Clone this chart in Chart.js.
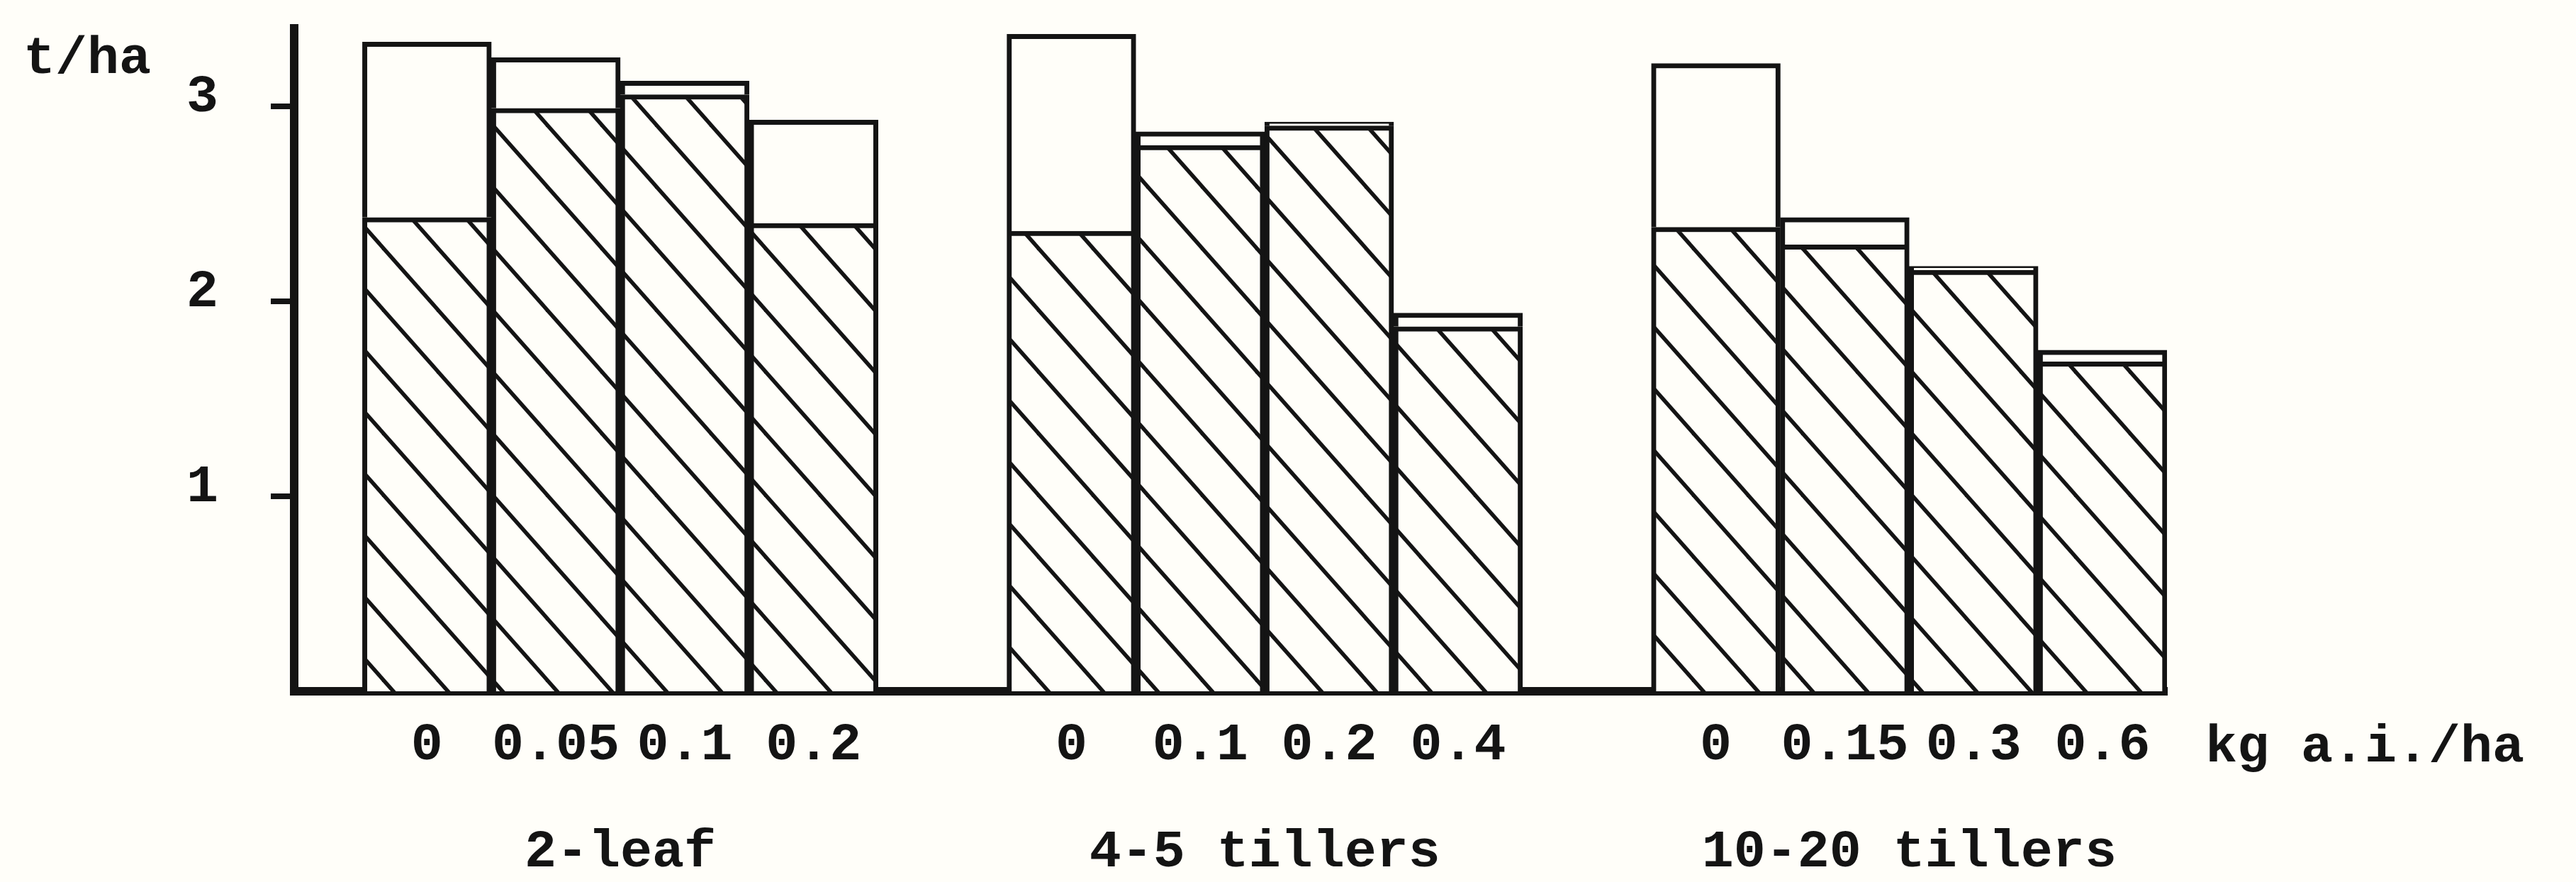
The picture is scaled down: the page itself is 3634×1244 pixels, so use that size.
<!DOCTYPE html>
<html>
<head>
<meta charset="utf-8">
<script src="https://cdn.jsdelivr.net/npm/chart.js@4.4.1/dist/chart.umd.min.js"></script>
<style>
  html, body { margin: 0; padding: 0; background: #fffef9; }
  canvas { display: block; background: #fffef9; }
</style>
</head>
<body>
<canvas id="c" width="3634" height="1244"></canvas>
<script>
// ---------------- data ----------------
const groupLabels = ['2-leaf', '4-5 tillers', '10-20 tillers'];
const doseLabels = ['0', '0.05', '0.1', '0.2', '0', '0.1', '0.2', '0.4', '0', '0.15', '0.3', '0.6'];
const doseUnit = 'kg a.i./ha';
const yAxisUnit = 't/ha';
const yTickValues = [1, 2, 3];
// hatched (lower) part of each bar, t/ha
const hatchedValues = [2.43, 2.99, 3.06, 2.40, 2.36, 2.80, 2.90, 1.87, 2.38, 2.29, 2.16, 1.69];
// total bar height (top of open part), t/ha
const totalValues = [3.33, 3.25, 3.13, 2.93, 3.37, 2.87, 2.92, 1.94, 3.22, 2.43, 2.18, 1.75];

// ---------------- derived ----------------
const barsPerGroup = 4;
const groupGap = 1;
const barPositions = doseLabels.map((_, i) =>
  Math.floor(i / barsPerGroup) * (barsPerGroup + groupGap) + (i % barsPerGroup));
const openValues = totalValues.map((t, i) => +(t - hatchedValues[i]).toFixed(3));

const INK = '#141414';
const BG = '#fffef9';
const FONT_FAMILY = '"Liberation Mono", "DejaVu Sans Mono", monospace';
const FONT_SIZE = 75;

const canvas = document.getElementById('c');
const ctx = canvas.getContext('2d');

function makeHatch() {
  const w = 77, h = 87;
  const t = document.createElement('canvas');
  t.width = w; t.height = h;
  const g = t.getContext('2d');
  g.fillStyle = BG; g.fillRect(0, 0, w, h);
  g.strokeStyle = INK; g.lineWidth = 5.5;
  for (let k = -2; k <= 2; k++) {
    g.beginPath();
    g.moveTo(-20, k * h - 20 * h / w);
    g.lineTo(w + 20, k * h + h + 20 * h / w);
    g.stroke();
  }
  return ctx.createPattern(t, 'repeat');
}
const hatch = makeHatch();

const extraLabels = {
  id: 'extraLabels',
  afterDraw(chart) {
    const c = chart.ctx;
    const x = chart.scales.x;
    c.save();
    c.fillStyle = INK;
    c.font = `bold ${FONT_SIZE}px ${FONT_FAMILY}`;
    c.textBaseline = 'alphabetic';
    c.textAlign = 'center';
    groupLabels.forEach((lab, g) => {
      const pos = barPositions.filter((_, i) => Math.floor(i / barsPerGroup) === g);
      const cx = (x.getPixelForValue(pos[0]) + x.getPixelForValue(pos[pos.length - 1])) / 2;
      c.fillText(lab, cx, 1222);
    });
    c.textAlign = 'left';
    c.fillText(doseUnit, chart.chartArea.right + 54, 1074);
    c.fillText(yAxisUnit, 33, 103);
    c.restore();
  }
};

const barCommon = {
  borderColor: INK,
  borderWidth: 7,
  barPercentage: 1,
  categoryPercentage: 1,
  stack: 'yield'
};

function zeroPadding(s) {
  s.paddingTop = 0; s.paddingBottom = 0; s.paddingLeft = 0; s.paddingRight = 0;
}

new Chart(ctx, {
  type: 'bar',
  data: {
    datasets: [
      Object.assign({
        label: 'hatched',
        data: hatchedValues.map((v, i) => ({ x: barPositions[i], y: v })),
        backgroundColor: hatch
      }, barCommon),
      Object.assign({
        label: 'open',
        data: openValues.map((v, i) => ({ x: barPositions[i], y: v })),
        backgroundColor: BG
      }, barCommon)
    ]
  },
  options: {
    responsive: false,
    animation: false,
    layout: { padding: { top: 40, right: 577, left: 0, bottom: 0 } },
    plugins: { legend: { display: false }, tooltip: { enabled: false } },
    scales: {
      x: {
        type: 'linear',
        offset: false,
        stacked: true,
        min: -1.03,
        max: 13.5,
        z: 1,
        grid: { display: false, drawTicks: false, tickLength: 0, offset: false },
        border: { display: true, width: 12, color: INK },
        afterBuildTicks: s => { s.ticks = barPositions.map(v => ({ value: v })); },
        afterFit: s => { s.height = 1244 - 975; zeroPadding(s); },
        ticks: {
          autoSkip: false, maxRotation: 0, minRotation: 0,
          padding: 32, color: INK,
          font: { family: FONT_FAMILY, size: FONT_SIZE, weight: 'bold' },
          callback: (v, i) => doseLabels[i]
        }
      },
      y: {
        stacked: true,
        min: 0,
        max: 3.4,
        z: 1,
        afterBuildTicks: s => { s.ticks = yTickValues.map(v => ({ value: v })); },
        afterFit: s => { s.width = 415; zeroPadding(s); },
        grid: { drawOnChartArea: false, drawTicks: true, tickLength: 33, lineWidth: 8, color: INK },
        border: { display: true, width: 12, color: INK },
        ticks: {
          padding: 74, labelOffset: -12, color: INK,
          font: { family: FONT_FAMILY, size: FONT_SIZE, weight: 'bold' },
          callback: v => String(v)
        }
      }
    }
  },
  plugins: [extraLabels]
});
</script>
</body>
</html>
